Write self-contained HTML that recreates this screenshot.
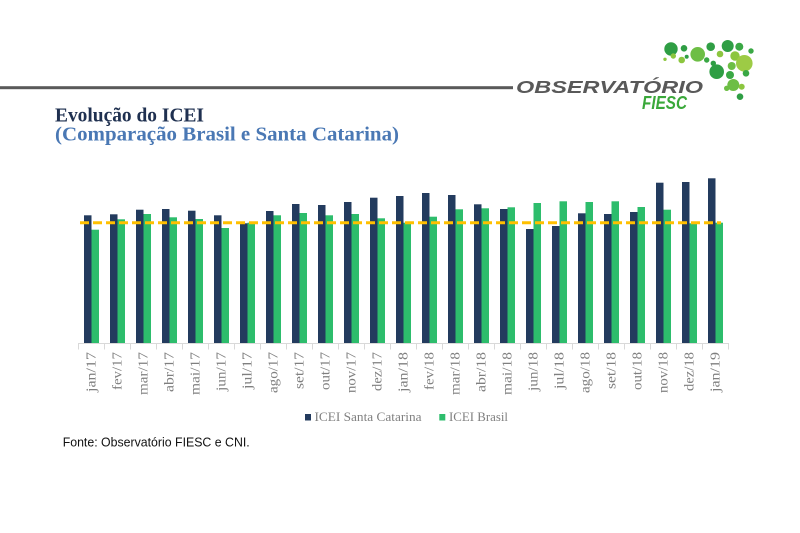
<!DOCTYPE html>
<html><head><meta charset="utf-8"><style>
html,body{margin:0;padding:0;background:#fff;}
svg{display:block;}
</style></head><body>
<svg width="800" height="533" viewBox="0 0 800 533" xmlns="http://www.w3.org/2000/svg">
<rect width="800" height="533" fill="#fff"/>
<!-- header line -->
<rect x="0" y="86.2" width="513" height="3" fill="#5a5a5a"/>
<text x="516" y="93" font-family="Liberation Sans, sans-serif" font-weight="bold" font-style="italic" font-size="17.5" fill="#595959" textLength="187" lengthAdjust="spacingAndGlyphs">OBSERVATÓRIO</text>
<text x="642" y="109" font-family="Liberation Sans, sans-serif" font-weight="bold" font-style="italic" font-size="18" fill="#3aa83a" textLength="45" lengthAdjust="spacingAndGlyphs">FIESC</text>
<!-- logo circles -->
<g>
<circle cx="671" cy="49" r="6.7" fill="#2f9e44"/>
<circle cx="684" cy="48.3" r="3.3" fill="#2f9e44"/>
<circle cx="697.7" cy="54.3" r="7.3" fill="#6dbe45"/>
<circle cx="710.7" cy="46.7" r="4.3" fill="#2f9e44"/>
<circle cx="727.7" cy="46" r="6" fill="#2f9e44"/>
<circle cx="739.3" cy="46.7" r="4" fill="#3aa845"/>
<circle cx="751" cy="51" r="2.7" fill="#3aa845"/>
<circle cx="720" cy="54" r="3.3" fill="#8cc63f"/>
<circle cx="735" cy="56" r="4.7" fill="#8cc63f"/>
<circle cx="744.3" cy="63.3" r="8.3" fill="#9dcb45"/>
<circle cx="673.3" cy="56" r="2.7" fill="#8cc63f"/>
<circle cx="665" cy="59.3" r="1.7" fill="#8cc63f"/>
<circle cx="681.7" cy="60" r="3.3" fill="#8cc63f"/>
<circle cx="686.7" cy="56.7" r="2" fill="#2f9e44"/>
<circle cx="706.7" cy="60" r="2.7" fill="#3aa845"/>
<circle cx="713.3" cy="63.3" r="2.7" fill="#2f9e44"/>
<circle cx="731.7" cy="66" r="4" fill="#6dbe45"/>
<circle cx="716.7" cy="71.7" r="7.3" fill="#2f9e44"/>
<circle cx="730" cy="75" r="4" fill="#3aa845"/>
<circle cx="746" cy="73.3" r="3.3" fill="#3aa845"/>
<circle cx="733.3" cy="85" r="6" fill="#6dbe45"/>
<circle cx="741.7" cy="86.7" r="3" fill="#8cc63f"/>
<circle cx="726.7" cy="88.3" r="2.7" fill="#6dbe45"/>
<circle cx="740" cy="96.7" r="3.3" fill="#2f9e44"/>
</g>
<!-- titles -->
<text x="55" y="121.5" font-family="Liberation Serif, serif" font-weight="bold" font-size="19.5" fill="#1f3050" textLength="149" lengthAdjust="spacingAndGlyphs">Evolução do ICEI</text>
<text x="55" y="140.5" font-family="Liberation Serif, serif" font-weight="bold" font-size="19.5" fill="#4a78b4" textLength="344" lengthAdjust="spacingAndGlyphs">(Comparação Brasil e Santa Catarina)</text>

<!-- dark bars -->
<g fill="#233b5e">
<rect x="84" y="215.3" width="7.5" height="128.2"/>
<rect x="110" y="214.3" width="7.5" height="129.2"/>
<rect x="136" y="209.7" width="7.5" height="133.8"/>
<rect x="162" y="209" width="7.5" height="134.5"/>
<rect x="188" y="210.7" width="7.5" height="132.8"/>
<rect x="214" y="215.3" width="7.5" height="128.2"/>
<rect x="240" y="223.3" width="7.5" height="120.2"/>
<rect x="266" y="211" width="7.5" height="132.5"/>
<rect x="292" y="204" width="7.5" height="139.5"/>
<rect x="318" y="205" width="7.5" height="138.5"/>
<rect x="344" y="202" width="7.5" height="141.5"/>
<rect x="370" y="197.7" width="7.5" height="145.8"/>
<rect x="396" y="196" width="7.5" height="147.5"/>
<rect x="422" y="193" width="7.5" height="150.5"/>
<rect x="448" y="195" width="7.5" height="148.5"/>
<rect x="474" y="204.3" width="7.5" height="139.2"/>
<rect x="500" y="209" width="7.5" height="134.5"/>
<rect x="526" y="229" width="7.5" height="114.5"/>
<rect x="552" y="226" width="7.5" height="117.5"/>
<rect x="578" y="213.3" width="7.5" height="130.2"/>
<rect x="604" y="214" width="7.5" height="129.5"/>
<rect x="630" y="212" width="7.5" height="131.5"/>
<rect x="656" y="182.7" width="7.5" height="160.8"/>
<rect x="682" y="182" width="7.5" height="161.5"/>
<rect x="708" y="178.3" width="7.5" height="165.2"/>
</g>
<!-- green bars -->
<g fill="#2dbd6c">
<rect x="91.5" y="229.7" width="7.5" height="113.8"/>
<rect x="117.5" y="219.3" width="7.5" height="124.2"/>
<rect x="143.5" y="214" width="7.5" height="129.5"/>
<rect x="169.5" y="217.3" width="7.5" height="126.2"/>
<rect x="195.5" y="219" width="7.5" height="124.5"/>
<rect x="221.5" y="228" width="7.5" height="115.5"/>
<rect x="247.5" y="222.7" width="7.5" height="120.8"/>
<rect x="273.5" y="215.3" width="7.5" height="128.2"/>
<rect x="299.5" y="213" width="7.5" height="130.5"/>
<rect x="325.5" y="215.3" width="7.5" height="128.2"/>
<rect x="351.5" y="214" width="7.5" height="129.5"/>
<rect x="377.5" y="218.3" width="7.5" height="125.2"/>
<rect x="403.5" y="222.7" width="7.5" height="120.8"/>
<rect x="429.5" y="216.7" width="7.5" height="126.8"/>
<rect x="455.5" y="209.3" width="7.5" height="134.2"/>
<rect x="481.5" y="208.3" width="7.5" height="135.2"/>
<rect x="507.5" y="207.3" width="7.5" height="136.2"/>
<rect x="533.5" y="203" width="7.5" height="140.5"/>
<rect x="559.5" y="201.3" width="7.5" height="142.2"/>
<rect x="585.5" y="202" width="7.5" height="141.5"/>
<rect x="611.5" y="201.3" width="7.5" height="142.2"/>
<rect x="637.5" y="207" width="7.5" height="136.5"/>
<rect x="663.5" y="209.7" width="7.5" height="133.8"/>
<rect x="689.5" y="223.3" width="7.5" height="120.2"/>
<rect x="715.5" y="222.7" width="7.5" height="120.8"/>
</g>
<!-- axis -->
<line x1="78" y1="343.5" x2="729" y2="343.5" stroke="#d9d9d9" stroke-width="1"/>
<path d="M78.5 343.5v6M104.5 343.5v6M130.5 343.5v6M156.5 343.5v6M182.5 343.5v6M208.5 343.5v6M234.5 343.5v6M260.5 343.5v6M286.5 343.5v6M312.5 343.5v6M338.5 343.5v6M364.5 343.5v6M390.5 343.5v6M416.5 343.5v6M442.5 343.5v6M468.5 343.5v6M494.5 343.5v6M520.5 343.5v6M546.5 343.5v6M572.5 343.5v6M598.5 343.5v6M624.5 343.5v6M650.5 343.5v6M676.5 343.5v6M702.5 343.5v6M728.5 343.5v6" stroke="#d9d9d9" stroke-width="1" fill="none"/>
<!-- dashed reference line -->
<line x1="80" y1="222.7" x2="721" y2="222.7" stroke="#ffc000" stroke-width="3" stroke-dasharray="9,4"/>
<!-- x labels -->
<g font-family="Liberation Serif, serif" font-size="13.5" fill="#7f7f7f" text-anchor="end">
<text transform="translate(95.5,352) rotate(-90)" textLength="40" lengthAdjust="spacingAndGlyphs">jan/17</text>
<text transform="translate(121.5,352) rotate(-90)" textLength="38" lengthAdjust="spacingAndGlyphs">fev/17</text>
<text transform="translate(147.5,352) rotate(-90)" textLength="43" lengthAdjust="spacingAndGlyphs">mar/17</text>
<text transform="translate(173.5,352) rotate(-90)" textLength="40" lengthAdjust="spacingAndGlyphs">abr/17</text>
<text transform="translate(199.5,352) rotate(-90)" textLength="43" lengthAdjust="spacingAndGlyphs">mai/17</text>
<text transform="translate(225.5,352) rotate(-90)" textLength="39" lengthAdjust="spacingAndGlyphs">jun/17</text>
<text transform="translate(251.5,352) rotate(-90)" textLength="37" lengthAdjust="spacingAndGlyphs">jul/17</text>
<text transform="translate(277.5,352) rotate(-90)" textLength="41" lengthAdjust="spacingAndGlyphs">ago/17</text>
<text transform="translate(303.5,352) rotate(-90)" textLength="37" lengthAdjust="spacingAndGlyphs">set/17</text>
<text transform="translate(329.5,352) rotate(-90)" textLength="38" lengthAdjust="spacingAndGlyphs">out/17</text>
<text transform="translate(355.5,352) rotate(-90)" textLength="41" lengthAdjust="spacingAndGlyphs">nov/17</text>
<text transform="translate(381.5,352) rotate(-90)" textLength="39" lengthAdjust="spacingAndGlyphs">dez/17</text>
<text transform="translate(407.5,352) rotate(-90)" textLength="40" lengthAdjust="spacingAndGlyphs">jan/18</text>
<text transform="translate(433.5,352) rotate(-90)" textLength="38" lengthAdjust="spacingAndGlyphs">fev/18</text>
<text transform="translate(459.5,352) rotate(-90)" textLength="43" lengthAdjust="spacingAndGlyphs">mar/18</text>
<text transform="translate(485.5,352) rotate(-90)" textLength="40" lengthAdjust="spacingAndGlyphs">abr/18</text>
<text transform="translate(511.5,352) rotate(-90)" textLength="43" lengthAdjust="spacingAndGlyphs">mai/18</text>
<text transform="translate(537.5,352) rotate(-90)" textLength="39" lengthAdjust="spacingAndGlyphs">jun/18</text>
<text transform="translate(563.5,352) rotate(-90)" textLength="37" lengthAdjust="spacingAndGlyphs">jul/18</text>
<text transform="translate(589.5,352) rotate(-90)" textLength="41" lengthAdjust="spacingAndGlyphs">ago/18</text>
<text transform="translate(615.5,352) rotate(-90)" textLength="37" lengthAdjust="spacingAndGlyphs">set/18</text>
<text transform="translate(641.5,352) rotate(-90)" textLength="38" lengthAdjust="spacingAndGlyphs">out/18</text>
<text transform="translate(667.5,352) rotate(-90)" textLength="41" lengthAdjust="spacingAndGlyphs">nov/18</text>
<text transform="translate(693.5,352) rotate(-90)" textLength="39" lengthAdjust="spacingAndGlyphs">dez/18</text>
<text transform="translate(719.5,352) rotate(-90)" textLength="40" lengthAdjust="spacingAndGlyphs">jan/19</text>
</g>
<!-- legend -->
<rect x="305" y="414" width="6" height="6.5" fill="#233b5e"/>
<text x="314.5" y="421" font-family="Liberation Serif, serif" font-size="13" fill="#7f7f7f" textLength="107" lengthAdjust="spacingAndGlyphs">ICEI Santa Catarina</text>
<rect x="439.3" y="414" width="6" height="6.5" fill="#2dbd6c"/>
<text x="449" y="421" font-family="Liberation Serif, serif" font-size="13" fill="#7f7f7f" textLength="59" lengthAdjust="spacingAndGlyphs">ICEI Brasil</text>
<!-- source -->
<text x="62.7" y="446.5" font-family="Liberation Sans, sans-serif" font-size="13" fill="#111" textLength="187" lengthAdjust="spacingAndGlyphs">Fonte: Observatório FIESC e CNI.</text>
</svg>
</body></html>
